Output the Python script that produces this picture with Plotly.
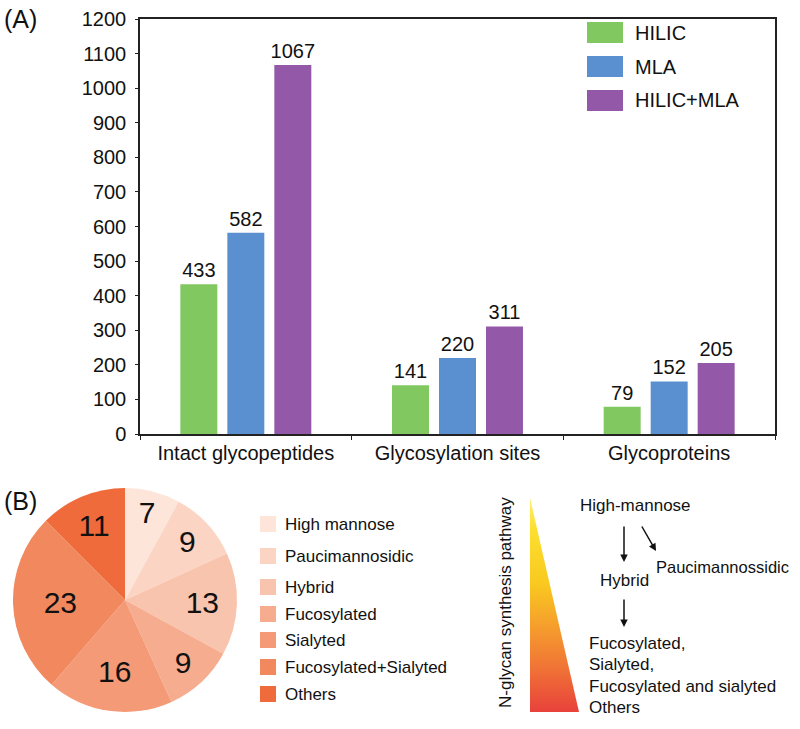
import plotly.graph_objects as go

W, H = 800, 729
FONT = "Liberation Sans, Arial, sans-serif"

# ---------------- data ----------------
categories = ["Intact glycopeptides", "Glycosylation sites", "Glycoproteins"]
series_names = ["HILIC", "MLA", "HILIC+MLA"]
hilic = [433, 141, 79]
mla = [582, 220, 152]
hilic_mla = [1067, 311, 205]
series_values = [hilic, mla, hilic_mla]
series_colors = ["#80C85F", "#5A8FD0", "#9359A8"]
y_ticks = list(range(0, 1300, 100))

glycan_types = ["High mannose", "Paucimannosidic", "Hybrid", "Fucosylated",
                "Sialyted", "Fucosylated+Sialyted", "Others"]
glycan_counts = [7, 9, 13, 9, 16, 23, 11]
glycan_colors = ["#FDE5DA", "#FBD4C3", "#F9C4AD", "#F6AC8F", "#F49A77",
                 "#F2885E", "#EF6B3B"]

pathway_title = "N-glycan synthesis pathway"
pathway_top = "High-mannose"
pathway_side = "Paucimannossidic"
pathway_mid = "Hybrid"
pathway_end = ["Fucosylated,", "Sialyted,", "Fucosylated and sialyted", "Others"]
triangle_x = [0, 0, 1, 0]
triangle_y = [1, 0, 0, 1]


def px(x):
    return x / W


def py(y):
    return 1 - y / H


fig = go.Figure()

# ---------------- (A) bars ----------------
for name, vals, col in zip(series_names, series_values, series_colors):
    fig.add_trace(go.Bar(
        x=categories, y=vals, name=name, marker_color=col,
        marker_line_width=0,
        text=vals, textposition="outside", cliponaxis=False,
        textfont=dict(size=20, color="#111", family=FONT),
        showlegend=False, xaxis="x", yaxis="y",
    ))

# ---------------- (B) pie ----------------
fig.add_trace(go.Pie(
    labels=glycan_types, values=glycan_counts, sort=False,
    direction="clockwise", rotation=0,
    marker=dict(colors=glycan_colors, line=dict(width=0)),
    text=glycan_counts, textinfo="text", textposition="inside",
    insidetextorientation="horizontal",
    textfont=dict(size=30, color="#111", family=FONT),
    domain=dict(x=[px(10), px(240)], y=[py(712), py(488)]),
    showlegend=False, hoverinfo="label+value", automargin=False,
))

# ---------------- gradient triangle ----------------
fig.add_trace(go.Scatter(
    x=triangle_x, y=triangle_y, mode="lines", fill="toself",
    line=dict(width=0, color="rgba(0,0,0,0)"),
    fillgradient=dict(type="vertical", colorscale=[
        [0.0, "#E8413B"], [0.2, "#F07236"], [0.42, "#F6A22C"],
        [0.6, "#F9C91F"], [0.85, "#FBDF2E"], [1.0, "#FDEE6A"]]),
    xaxis="x3", yaxis="y3", showlegend=False, hoverinfo="skip",
))

axis_font = dict(size=20, color="#111", family=FONT)
fig.update_layout(
    template="none",
    width=W, height=H, autosize=False,
    margin=dict(l=0, r=0, t=0, b=0, pad=0, autoexpand=False),
    paper_bgcolor="white", plot_bgcolor="white",
    showlegend=False,
    font=dict(family=FONT, color="#111"),
    uniformtext=dict(minsize=20, mode="show"),
    barmode="group", bargap=0.334, bargroupgap=0.213,
    xaxis=dict(domain=[px(140), px(775)], type="category",
               showline=True, linecolor="#222", linewidth=1.5, mirror=True,
               ticks="outside", tickson="boundaries", ticklen=4,
               tickcolor="#222", tickfont=axis_font, showgrid=False,
               zeroline=False, anchor="y", automargin=False),
    yaxis=dict(domain=[py(434), py(19)], range=[0, 1200],
               tickvals=y_ticks, showline=True, linecolor="#222",
               linewidth=1.5, mirror=True, ticks="outside", ticklen=3,
               tickcolor="#222", tickfont=axis_font, showgrid=False,
               ticklabelstandoff=5,
               zeroline=False, anchor="x", automargin=False),
    xaxis3=dict(domain=[px(530), px(579)], range=[0, 1], visible=False,
                anchor="y3", fixedrange=True, automargin=False),
    yaxis3=dict(domain=[py(712), py(498)], range=[0, 1], visible=False,
                anchor="x3", fixedrange=True, automargin=False),
)

shapes = []
annotations = []

# panel letters
annotations.append(dict(x=px(2), y=py(3), xref="paper", yref="paper",
                        xanchor="left", yanchor="top", text="(A)",
                        showarrow=False, font=dict(size=25, family=FONT, color="#111")))
annotations.append(dict(x=px(2), y=py(485), xref="paper", yref="paper",
                        xanchor="left", yanchor="top", text="(B)",
                        showarrow=False, font=dict(size=25, family=FONT, color="#111")))

# bar legend
for i, (name, col) in enumerate(zip(series_names, series_colors)):
    top = 22 + 34 * i
    shapes.append(dict(type="rect", xref="paper", yref="paper",
                       x0=px(587), x1=px(623), y0=py(top + 21), y1=py(top),
                       fillcolor=col, line=dict(width=0)))
    annotations.append(dict(x=px(633), y=py(top + 10.5), xref="paper", yref="paper",
                            xanchor="left", yanchor="middle", text=name,
                            showarrow=False, font=dict(size=20, family=FONT, color="#111")))

# pie legend
pie_leg_centers = [524, 556, 587, 614, 640, 667, 694]
for name, col, cy in zip(glycan_types, glycan_colors, pie_leg_centers):
    shapes.append(dict(type="rect", xref="paper", yref="paper",
                       x0=px(260), x1=px(276), y0=py(cy + 8), y1=py(cy - 8),
                       fillcolor=col, line=dict(width=0)))
    annotations.append(dict(x=px(283), y=py(cy), xref="paper", yref="paper",
                            xanchor="left", yanchor="middle", text=name,
                            showarrow=False, font=dict(size=17, family=FONT, color="#111")))

# pathway texts
txt_font = dict(size=17, family=FONT, color="#111")
annotations.append(dict(x=px(505), y=py(603), xref="paper", yref="paper",
                        xanchor="center", yanchor="middle", text=pathway_title,
                        textangle=-90, showarrow=False, font=txt_font))
annotations.append(dict(x=px(578), y=py(505), xref="paper", yref="paper",
                        xanchor="left", yanchor="middle", text=pathway_top,
                        showarrow=False, font=txt_font))
annotations.append(dict(x=px(654), y=py(567), xref="paper", yref="paper",
                        xanchor="left", yanchor="middle", text=pathway_side,
                        showarrow=False, font=dict(size=16.5, family=FONT, color="#111")))
annotations.append(dict(x=px(598), y=py(580), xref="paper", yref="paper",
                        xanchor="left", yanchor="middle", text=pathway_mid,
                        showarrow=False, font=txt_font))
for i, t in enumerate(pathway_end):
    annotations.append(dict(x=px(587), y=py(643 + 21.5 * i), xref="paper", yref="paper",
                            xanchor="left", yanchor="middle", text=t,
                            showarrow=False, font=txt_font))

# arrows (head at x,y; tail offset in pixels)
arrow_specs = [((624, 562), (624, 525)), ((656, 551), (641, 525)), ((624, 627), (624, 598))]
for (hx, hy), (tx, ty) in arrow_specs:
    annotations.append(dict(x=px(hx), y=py(hy), xref="paper", yref="paper",
                            ax=tx - hx, ay=ty - hy, axref="pixel", ayref="pixel",
                            text="", showarrow=True, arrowhead=2, arrowsize=1,
                            arrowwidth=1.5, arrowcolor="#111"))

fig.update_layout(shapes=shapes, annotations=annotations)

fig.write_html("out.html",
               config={"displayModeBar": False},
               post_script="document.body.style.margin='0';document.body.style.overflow='hidden';")
